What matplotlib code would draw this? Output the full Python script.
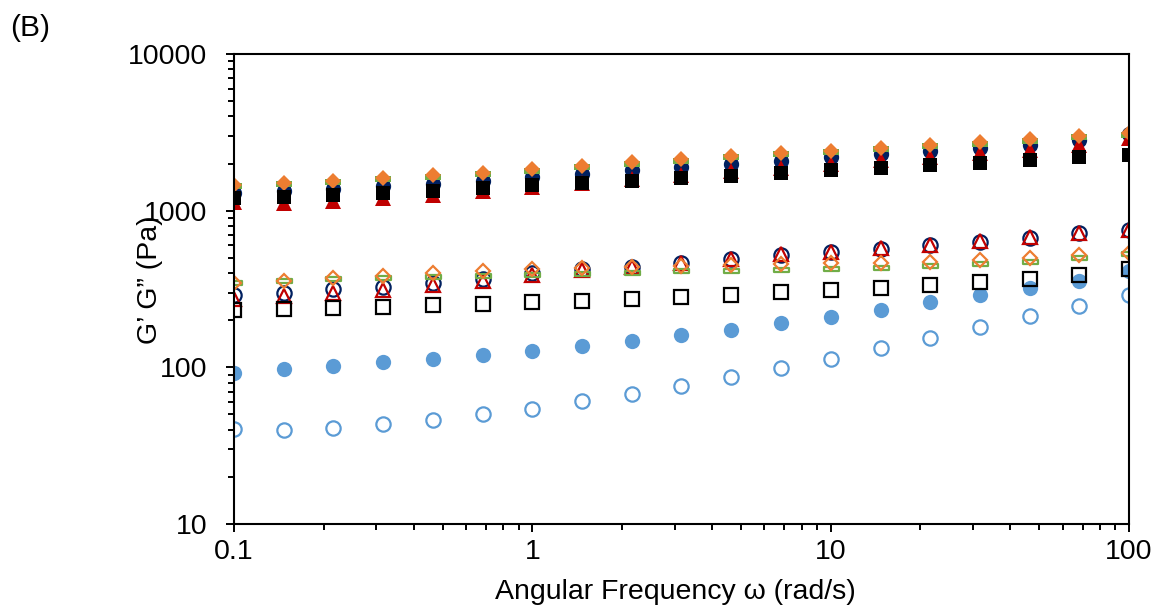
import matplotlib
matplotlib.use('Agg')
import matplotlib.pyplot as plt
from matplotlib.path import Path
from matplotlib.ticker import LogLocator, FuncFormatter, NullFormatter

plt.rcParams['font.family'] = ['Liberation Sans', 'DejaVu Sans']

# Angular frequency (rad/s)
freq = [0.1, 0.147, 0.215, 0.316, 0.464, 0.681, 1.0, 1.47, 2.15, 3.16,
        4.64, 6.81, 10.0, 14.7, 21.5, 31.6, 46.4, 68.1, 100.0]

# storage modulus G' (filled markers)
g1_lightblue = [92.5, 97.7, 102, 108, 113, 119.5, 128, 137.6, 148, 160,
                174, 191, 211, 232, 260, 288, 320, 356, 414]
g1_navy = [1290, 1330, 1380, 1430, 1490, 1550, 1640, 1720, 1810, 1900,
           2000, 2090, 2190, 2290, 2400, 2510, 2640, 2830, 3080]
g1_red = [1130, 1120, 1150, 1200, 1260, 1330, 1420, 1500, 1590, 1690,
          1790, 1880, 2000, 2100, 2200, 2320, 2450, 2640, 2900]
g1_green = [1440, 1470, 1530, 1590, 1650, 1720, 1800, 1890, 1990, 2080,
            2190, 2290, 2370, 2470, 2580, 2680, 2800, 2940, 3060]
g1_orange = [1459, 1496, 1553, 1612, 1682, 1748, 1837, 1929, 2036, 2128,
             2234, 2335, 2415, 2524, 2637, 2732, 2857, 2997, 3118]
g1_black = [1205, 1228, 1255, 1295, 1335, 1390, 1452, 1496, 1547, 1610,
            1672, 1734, 1811, 1873, 1950, 2024, 2109, 2192, 2277]

# loss modulus G'' (open markers)
g2_lightblue = [40.5, 39.6, 41.2, 43.5, 46.2, 50.2, 54.5, 60.8, 67.6, 76.1,
                86.5, 99.5, 113.7, 132.4, 154.8, 181, 212, 248, 290]
g2_navy = [290, 300, 315, 327, 344, 365, 398, 423, 439, 462,
           490, 522, 542, 570, 604, 634, 672, 717, 753]
g2_red = [275, 285, 298, 313, 333, 355, 390, 420, 440, 465,
          495, 528, 548, 578, 608, 640, 678, 722, 758]
g2_green = [347, 356, 364, 371, 377, 385, 389, 394, 402, 410,
            412, 418, 425, 430, 441, 455, 473, 497, 527]
g2_orange = [344, 356, 369, 383, 398, 412, 423, 432, 440, 446,
             452, 458, 462, 466, 472, 482, 498, 518, 540]
g2_black = [232, 235, 238, 244, 249, 255, 260, 267, 275, 283,
            291, 301, 312, 323, 334, 349, 367, 389, 423]

# Excel style "dash" marker
dash = Path([(-1, -0.32), (1, -0.32), (1, 0.32), (-1, 0.32), (-1, -0.32)],
            [Path.MOVETO, Path.LINETO, Path.LINETO, Path.LINETO, Path.CLOSEPOLY])

fig = plt.figure(figsize=(11.6, 6.14), dpi=100)
ax = fig.add_axes([234 / 1160, 1 - 524 / 614, (1129 - 234) / 1160, (524 - 54) / 614])

mew = 1.6
ax.plot(freq, g1_lightblue, ls='none', marker='o', ms=11, color='#5B9BD5', mew=0)
ax.plot(freq, g2_lightblue, ls='none', marker='o', ms=10.3, mfc='none', mec='#5B9BD5', mew=mew)
ax.plot(freq, g1_navy, ls='none', marker='o', ms=11, color='#002060', mew=0)
ax.plot(freq, g2_navy, ls='none', marker='o', ms=10.3, mfc='none', mec='#002060', mew=mew)
ax.plot(freq, g1_red, ls='none', marker='^', ms=11, color='#C00000', mew=0)
ax.plot(freq, g2_red, ls='none', marker='^', ms=10.3, mfc='none', mec='#C00000', mew=mew)
ax.plot(freq, g1_green, ls='none', marker=dash, ms=11.5, color='#70AD47', mew=0)
ax.plot(freq, g2_green, ls='none', marker=dash, ms=10.8, mfc='none', mec='#70AD47', mew=mew)
ax.plot(freq, g1_orange, ls='none', marker='D', ms=8.2, color='#ED7D31', mew=0)
ax.plot(freq, g2_orange, ls='none', marker='D', ms=7.6, mfc='none', mec='#ED7D31', mew=mew)
ax.plot(freq, g1_black, ls='none', marker='s', ms=10.5, color='black', mew=0)
ax.plot(freq, g2_black, ls='none', marker='s', ms=9.8, mfc='none', mec='black', mew=mew)

ax.set_xscale('log')
ax.set_yscale('log')
ax.set_xlim(0.1, 100)
ax.set_ylim(10, 10000)

fmt = FuncFormatter(lambda v, p: f'{v:g}')
for axis in (ax.xaxis, ax.yaxis):
    axis.set_major_locator(LogLocator(base=10))
    axis.set_minor_locator(LogLocator(base=10, subs=range(2, 10)))
    axis.set_major_formatter(fmt)
    axis.set_minor_formatter(NullFormatter())

ax.tick_params(which='both', direction='out', top=False, right=False,
               labelsize=20.5, width=1.4, color='black')
ax.tick_params(which='major', length=6)
ax.tick_params(which='minor', length=4.5)
ax.tick_params(axis='x', pad=5)
ax.tick_params(axis='y', pad=13)

for s in ax.spines.values():
    s.set_linewidth(1.5)

ax.set_xlabel('Angular Frequency \u03c9 (rad/s)', fontsize=20.5)
ax.xaxis.set_label_coords(0.493, -0.118)
ax.set_ylabel('G\u2019 G\u201d (Pa)', fontsize=20.5)
ax.yaxis.set_label_coords(-0.079, 0.519)

fig.text(0.009, 1 - 28 / 614, '(B)', fontsize=21.5, va='center', ha='left')

fig.savefig('out.png', dpi=100)
